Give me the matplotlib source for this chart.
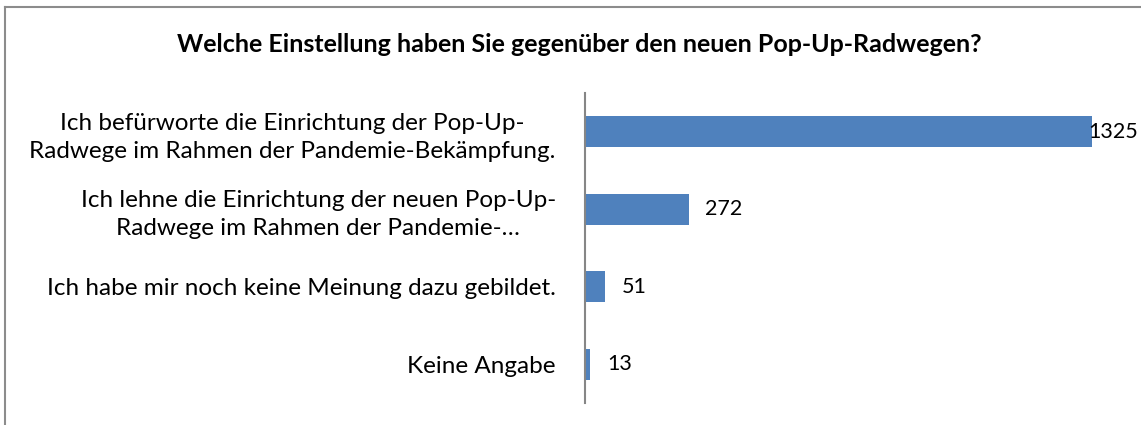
import matplotlib
matplotlib.use("Agg")
import matplotlib.pyplot as plt
from matplotlib.lines import Line2D

title = "Welche Einstellung haben Sie gegenüber den neuen Pop-Up-Radwegen?"
labels = [
    "Ich befürworte die Einrichtung der Pop-Up-\nRadwege im Rahmen der Pandemie-Bekämpfung.",
    "Ich lehne die Einrichtung der neuen Pop-Up-\nRadwege im Rahmen der Pandemie-…",
    "Ich habe mir noch keine Meinung dazu gebildet.",
    "Keine Angabe",
]
values = [1325, 272, 51, 13]

plt.rcParams['font.family'] = ['Lato', 'DejaVu Sans']

W, H = 1141, 425
fig = plt.figure(figsize=(W / 100, H / 100), dpi=100)

# axes placed in pixel terms: axis line at x=585, bar for 1325 ends at x=1092
x0, x1 = 585, 1092
y_top, y_bot = 93, 403
ax = fig.add_axes([x0 / W, 1 - y_bot / H, (x1 - x0) / W, (y_bot - y_top) / H])

pos = list(range(len(values)))
ax.barh(pos, values, height=0.4, color='#4f81bd')
ax.set_xlim(0, 1325)
ax.set_ylim(len(values) - 0.5, -0.5)

ax.set_yticks(pos)
ax.set_yticklabels(labels, fontsize=17.5, ha='right', multialignment='center',
                   linespacing=1.4)
ax.tick_params(axis='y', length=0, pad=21)
ax.set_xticks([])
for s in ['top', 'right', 'bottom']:
    ax.spines[s].set_visible(False)
ax.spines['left'].set_color('#868686')
ax.spines['left'].set_linewidth(1.5)

offsets = [-4, 16, 17, 17]
for p, v, o in zip(pos, values, offsets):
    ax.annotate(str(v), (v, p), xytext=(o, 0), textcoords='offset pixels',
                va='center', ha='left', fontsize=15.5, annotation_clip=False)

fig.text(579 / W, 1 - 45 / H, title, ha='center', va='center',
         fontsize=18, fontweight='bold')

# chart border (only top and left edges fall inside the picture)
fig.add_artist(Line2D([5 / W, 5 / W], [0, 1 - 7 / H], color='#8c8c8c', lw=1.5))
fig.add_artist(Line2D([5 / W, 1], [1 - 7 / H, 1 - 7 / H], color='#8c8c8c', lw=1.5))

fig.savefig('out.png', dpi=100)
